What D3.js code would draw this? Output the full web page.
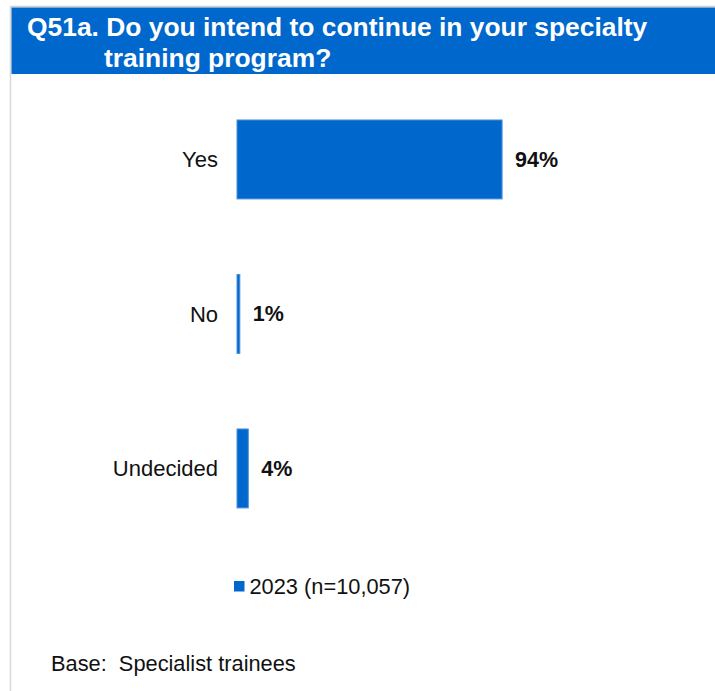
<!DOCTYPE html>
<html>
<head>
<meta charset="utf-8">
<script src="https://cdn.jsdelivr.net/npm/d3@7"></script>
<style>
  html, body { margin: 0; padding: 0; background: #fff; }
  text { font-family: "Liberation Sans", Arial, sans-serif; }
</style>
</head>
<body>
<script>
// chart data
const titleLines = ['Q51a. Do you intend to continue in your specialty', 'training program?']
const categories = ['Yes', 'No', 'Undecided']
const values = [94, 1, 4]
const seriesName = '2023 (n=10,057)'
const baseNote = 'Base:  Specialist trainees'

let width = 715, height = 691
const barColor = '#0067cc'

let svg = d3.select('body').append('svg')
  .attr('width', width)
  .attr('height', height)

// frame lines (top + left)
svg.append('line')
  .attr('x1', 10).attr('x2', width).attr('y1', 6.5).attr('y2', 6.5)
  .style('stroke', '#d0d0d0').style('stroke-width', 1.5)
svg.append('line')
  .attr('x1', 10.5).attr('x2', 10.5).attr('y1', 6).attr('y2', height)
  .style('stroke', '#d8d8d8').style('stroke-width', 1.5)

// title band
svg.append('rect')
  .attr('x', 11.5).attr('y', 7.5)
  .attr('width', width - 11.5).attr('height', 66.5)
  .style('fill', barColor)

let title = svg.append('g').attr('id', 'title')
title.selectAll('text').data(titleLines).enter().append('text')
  .attr('x', (d, i) => i === 0 ? 27 : 104)
  .attr('y', (d, i) => 36 + i * 30.5)
  .style('fill', '#fff')
  .style('font-weight', 'bold')
  .style('font-size', '26.4px')
  .text(d => d)

// scales
let x = d3.scaleLinear().domain([0, 100]).range([237, 519])
let y = d3.scaleBand().domain(categories).range([82.2, 545.7])
  .paddingInner(0.489).paddingOuter(0.2445)

let rows = categories.map((c, i) => ({ cat: c, val: values[i] }))

let chart = svg.append('g').attr('id', 'bars')

chart.selectAll('rect').data(rows).enter().append('rect')
  .attr('x', x(0))
  .attr('y', d => y(d.cat))
  .attr('width', d => x(d.val) - x(0))
  .attr('height', y.bandwidth())
  .style('fill', barColor)
  .style('stroke', '#4a92dc')
  .style('stroke-width', 1)

// category labels
chart.selectAll('text.cat').data(rows).enter().append('text')
  .attr('class', 'cat')
  .attr('x', 218)
  .attr('y', d => y(d.cat) + y.bandwidth() / 2)
  .attr('dy', '0.35em')
  .attr('text-anchor', 'end')
  .style('font-size', '22px')
  .style('fill', '#111')
  .text(d => d.cat)

// value labels
chart.selectAll('text.val').data(rows).enter().append('text')
  .attr('class', 'val')
  .attr('x', d => x(d.val) + 13)
  .attr('y', d => y(d.cat) + y.bandwidth() / 2)
  .attr('dy', '0.35em')
  .style('font-size', '21.5px')
  .style('font-weight', 'bold')
  .style('fill', '#111')
  .text(d => d.val + '%')

// legend
let legend = svg.append('g').attr('id', 'legend').attr('transform', 'translate(234, 581)')
legend.append('rect')
  .attr('width', 10.5).attr('height', 10.5)
  .style('fill', barColor)
legend.append('text')
  .attr('x', 15.5).attr('y', 5.5).attr('dy', '0.35em')
  .style('font-size', '21.8px')
  .style('fill', '#111')
  .text(seriesName)

// base note
svg.append('text')
  .attr('x', 51).attr('y', 671)
  .style('font-size', '21.8px')
  .style('fill', '#111')
  .style('white-space', 'pre')
  .attr('xml:space', 'preserve')
  .text(baseNote)
</script>
</body>
</html>
